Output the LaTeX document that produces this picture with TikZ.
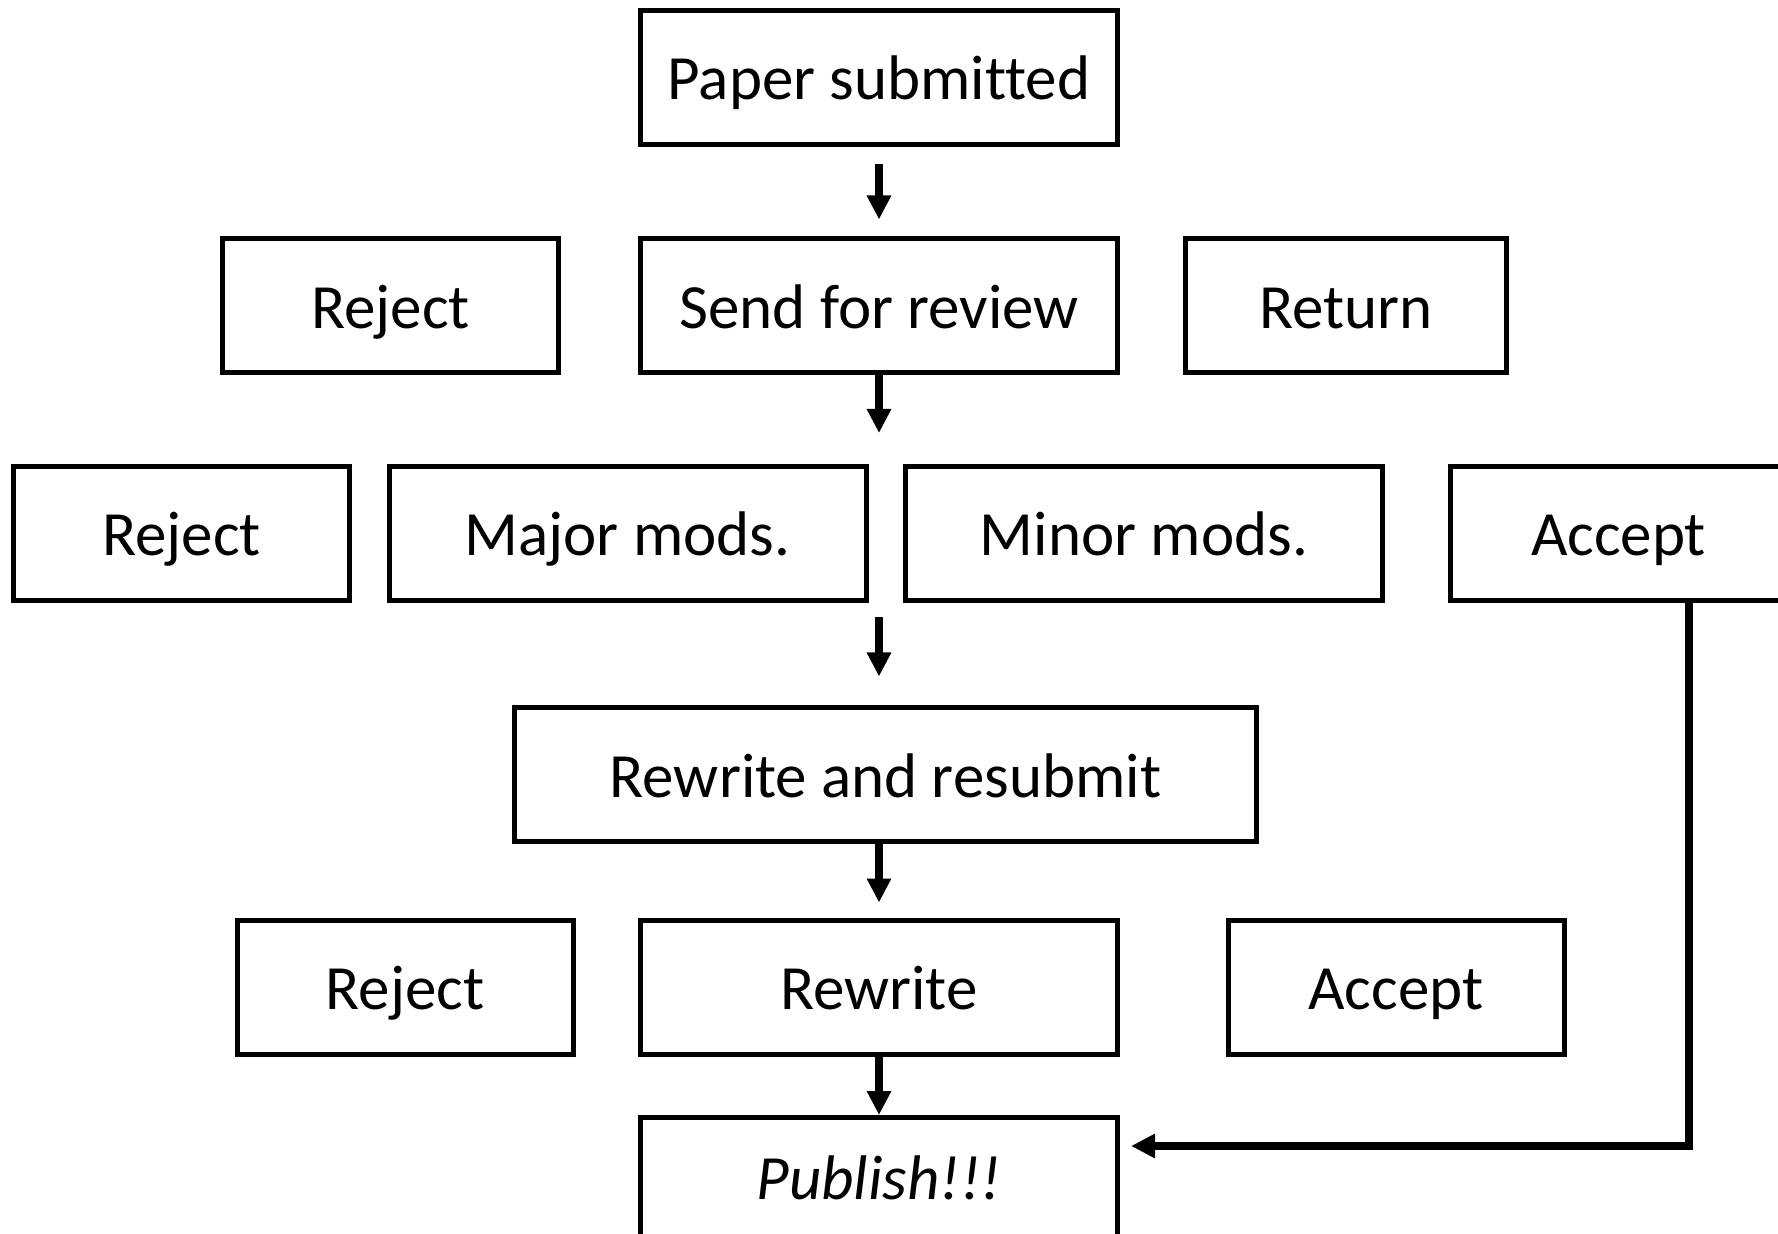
\documentclass[tikz,border=0pt]{standalone}
\usepackage{fontspec}
\setmainfont[Ligatures=NoCommon]{Carlito}
\usetikzlibrary{arrows.meta}
\begin{document}
\begin{tikzpicture}[x=0.5pt,y=-0.5pt,
  box/.style={draw, line width=2.5pt, minimum height=67pt, inner sep=0pt,
    text height=22.5pt, text depth=0pt, font=\fontsize{31.5}{36}\selectfont},
  wide/.style={box, minimum width=238.5pt},
  narrow/.style={box, minimum width=168pt},
  arr/.style={line width=4pt, -{Triangle[width=11.5pt,length=12pt]}}]
\useasboundingbox (0,0) rectangle (1778,1234);
\clip (0,0) rectangle (1778,1234);

\node[wide] (paper) at (879,77.5) {Paper submitted};

\node[narrow] (rej1) at (390.5,306) {Reject};
\node[wide] (send) at (879,306) {Send for review};
\node[box, minimum width=160.5pt] (ret) at (1346,306) {Return};

\node[narrow] (rej2) at (181.5,533.5) {Reject};
\node[wide] (major) at (627.5,533.5) {Major mods.};
\node[wide] (minor) at (1144,533.5) {Minor mods.};
\node[narrow] (acc1) at (1618.5,533.5) {Accept};

\node[box, minimum width=371pt] (rr) at (885.5,775) {Rewrite and resubmit};

\node[narrow] (rej3) at (405,987) {Reject};
\node[wide] (rew) at (879,987) {Rewrite};
\node[narrow] (acc2) at (1396,987) {Accept};

\node[wide, minimum height=59.5pt] (pub) at (879,1177) {\itshape Publish!!!};

\coordinate (bend) at (1689,1146);

\draw[arr, shorten <=8.5pt, shorten >=8.5pt] (paper) -- (send);
\draw[arr, shorten >=15.5pt] (send.south) -- (send.south |- major.north);
\draw[arr, shorten <=7pt, shorten >=14.5pt] (send.south |- major.south) -- (send.south |- rr.north);
\draw[arr, shorten >=7.5pt] (send.south |- rr.south) -- (rew.north);
\draw[arr] (rew) -- (pub);
\draw[arr, shorten >=5.5pt] (bend |- acc1.south) -- (bend) -- (pub.east |- bend);
\end{tikzpicture}
\end{document}
